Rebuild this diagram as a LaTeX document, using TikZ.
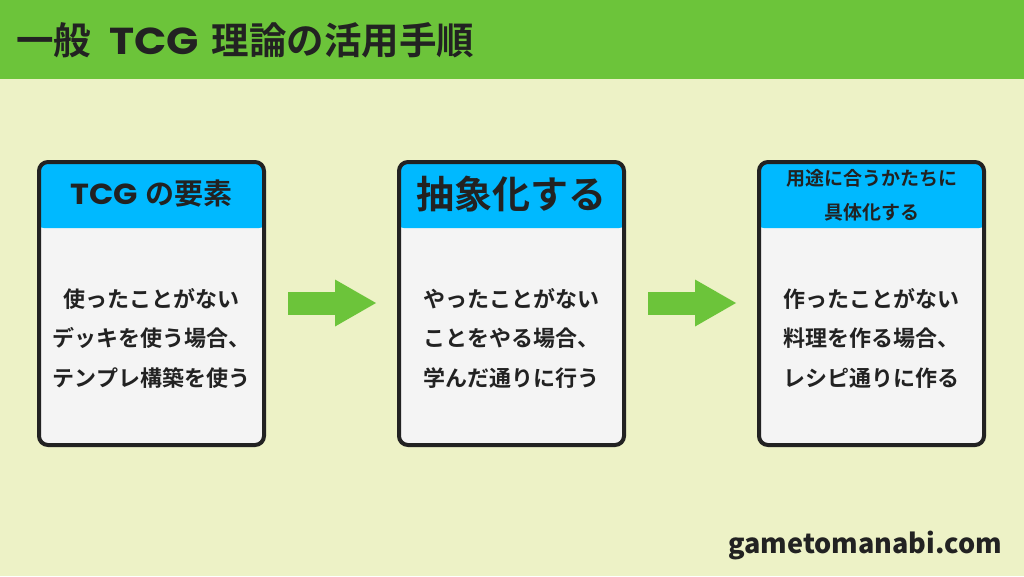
\documentclass[tikz,border=0pt]{standalone}
\usepackage{fontspec}
\setmainfont{Noto Sans CJK JP}[BoldFont=Noto Sans CJK JP Bold]
\newfontfamily\jpblack{Noto Sans CJK JP Black}
\newfontfamily\latinf{Poppins}
\usetikzlibrary{arrows.meta}
\definecolor{bgcol}{HTML}{EDF2C6}
\definecolor{barcol}{HTML}{6CC43A}
\definecolor{hdrblue}{HTML}{00B9FF}
\definecolor{bodygray}{HTML}{F4F4F4}
\definecolor{ink}{HTML}{222222}
\begin{document}
\begin{tikzpicture}[x=1pt,y=-1pt,
  card/.style={draw=ink, line width=4pt, rounded corners=9pt, fill=bodygray,
    minimum width=225pt, minimum height=283pt, inner sep=0pt,
    path picture={\fill[hdrblue] ([yshift=4pt,xshift=-4pt]path picture bounding box.north west) rectangle ([yshift=-66pt,xshift=4pt]path picture bounding box.north east);}},
  hdr/.style={text=ink, font=\bfseries\fontsize{#1}{#1}\selectfont, inner sep=0pt},
  hdrsmall/.style={text=ink, font=\bfseries\fontsize{19}{34}\selectfont, align=center, inner sep=0pt},
  bodytext/.style={text=ink, font=\bfseries\fontsize{22}{39.5}\selectfont, align=center, inner sep=0pt},
  bigarrow/.style={draw=barcol, line width=23pt, -{Triangle[length=41pt,width=47pt,line width=0pt]}},
  title/.style={text=ink, font=\bfseries\fontsize{37.5}{37.5}\selectfont, inner sep=0pt},
  footer/.style={text=ink, font=\jpblack\fontsize{27}{27}\selectfont, inner sep=0pt}
]
\useasboundingbox (0,0) rectangle (1024,576);
\fill[bgcol] (0,0) rectangle (1024,576);
\fill[barcol] (0,0) rectangle (1024,79);
\node[title, anchor=west] (ttl) at (16,40) {一般\hspace{18pt}\scalebox{1.13}[1]{\latinf\bfseries TCG}\hspace{13pt}理論の活用手順};

\node[card] (c1) at (151.5,303.5) {};
\node[card] (c2) at (511.5,303.5) {};
\node[card] (c3) at (871.5,303.5) {};

\node[hdr=29] (h1) at ([yshift=-34pt]c1.north) {\scalebox{1.1}[1]{\latinf\bfseries TCG}\hspace{8pt}の要素};
\node[hdr=38] (h2) at ([yshift=-34pt]c2.north) {抽象化する};
\node[hdrsmall] (h3) at ([yshift=-35pt]c3.north) {用途に合うかたちに\\具体化する};

\node[bodytext] (b1) at ([yshift=-34.5pt]c1.center) {使ったことがない\\デッキを使う場合、\\テンプレ構築を使う};
\node[bodytext] (b2) at ([yshift=-34.5pt]c2.center) {やったことがない\\ことをやる場合、\\学んだ通りに行う};
\node[bodytext] (b3) at ([yshift=-34.5pt]c3.center) {作ったことがない\\料理を作る場合、\\レシピ通りに作る};

\draw[bigarrow] ([xshift=22pt,yshift=0.5pt]c1.east) -- ([xshift=-21pt,yshift=0.5pt]c2.west);
\draw[bigarrow] ([xshift=22pt,yshift=0.5pt]c2.east) -- ([xshift=-21pt,yshift=0.5pt]c3.west);

\node[footer, anchor=east] (site) at (1002,545) {gametomanabi.com};
\end{tikzpicture}
\end{document}
